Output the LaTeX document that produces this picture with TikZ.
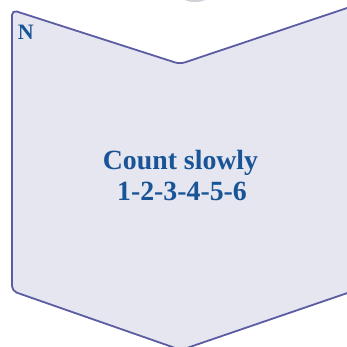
\documentclass[tikz,border=0pt]{standalone}
\usepackage{fontspec}
\setmainfont{Liberation Serif}
\usetikzlibrary{arrows.meta}

\definecolor{chevfill}{RGB}{230,230,241}
\definecolor{chevline}{RGB}{92,92,162}
\definecolor{labblue}{RGB}{24,84,150}
\definecolor{topgray}{RGB}{120,120,140}

\begin{document}
\begin{tikzpicture}[x=1pt, y=-1pt, line width=1.8pt, line cap=round, line join=round]

  %% ════ 上方残影 ════
  \fill[topgray!35] (195.0,-4.0) ellipse [x radius=14, y radius=6];

  %% ════ 箭头形面板 ════
  \draw[chevline, fill=chevfill, rounded corners=5pt]
    (365.0,2.0) -- (180.0,64.0) -- (12.0,10.0) -- (12.0,291.0)
    -- (181.0,350.0) -- (365.0,287.0) -- cycle;

  %% ════ 标签 ════
  \node[anchor=base west,inner sep=0pt,text=labblue,font=\fontsize{22}{26}\selectfont\bfseries] (mark) at (17.0,40.0) {N};
  \node[anchor=base,inner sep=0pt,text=labblue,font=\fontsize{27.8}{30}\selectfont\bfseries] (line1) at (180.5,170.0) {Count slowly};
  \node[anchor=base,inner sep=0pt,text=labblue,font=\fontsize{27.8}{30}\selectfont\bfseries] (line2) at (182.0,200.0) {1-2-3-4-5-6};

  % 钉死画布
  \pgfresetboundingbox
  \path[use as bounding box] (0,0) rectangle (347,347);
\end{tikzpicture}
\end{document}
